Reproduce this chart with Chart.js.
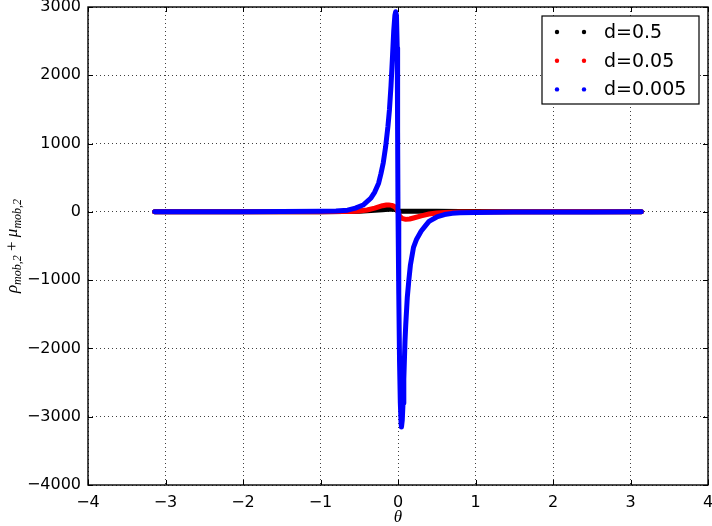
<!DOCTYPE html>
<html>
<head>
<meta charset="utf-8">
<script src="https://cdn.jsdelivr.net/npm/chart.js@4.4.0/dist/chart.umd.min.js"></script>
<style>
  html, body { margin: 0; padding: 0; background: #fff; }
  #wrap { width: 712px; height: 526px; }
</style>
</head>
<body>
<div id="wrap"><canvas id="thetaChart" width="712" height="526"></canvas></div>
<script>
/**************** Data ****************/
const xTicks = [-4, -3, -2, -1, 0, 1, 2, 3, 4];
const yTicks = [-4000, -3000, -2000, -1000, 0, 1000, 2000, 3000];

const seriesLabels = ["d=0.5", "d=0.05", "d=0.005"];
const seriesColors = ["#000000", "#ff0000", "#0000ff"];

// d=0.5
const blackX = [-3.14, -2.0, -1.0, -0.7, -0.5, -0.4, -0.3, -0.2, -0.12, -0.06, -0.02, 0.0, 0.02, 0.1, 0.3, 0.5, 0.8, 1.0, 1.5, 3.14];
const blackY = [0, 1, 3, 6, 10, 15, 22, 32, 38, 37, 30, 15, 10, 10, 9, 8, 6, 4, 2, 0];

// d=0.05
const redX = [-3.14, -2.0, -1.0, -0.7, -0.6, -0.5, -0.4, -0.3, -0.2, -0.15, -0.12, -0.08, -0.05, -0.02, 0.0, 0.02, 0.05, 0.1, 0.15, 0.2, 0.3, 0.4, 0.5, 0.6, 0.8, 1.0, 2.0, 3.14];
const redY = [0, 0, 2, 4, 6, 12, 28, 55, 90, 100, 102, 95, 80, 50, 0, -60, -95, -110, -105, -90, -58, -32, -16, -8, -3, -1, 0, 0];

// d=0.005
const blueX = [-3.14, -2.5, -2.0, -1.5, -1.0, -0.8, -0.65, -0.55, -0.45, -0.35, -0.3, -0.25, -0.22, -0.19, -0.16, -0.13, -0.11, -0.09, -0.07, -0.055, -0.04, -0.03, -0.02, -0.01, -0.005, 0.0, 0.01, 0.02, 0.03, 0.04, 0.045, 0.055, 0.065, 0.075, 0.09, 0.1, 0.12, 0.14, 0.16, 0.2, 0.24, 0.3, 0.35, 0.4, 0.5, 0.6, 0.7, 0.8, 1.0, 1.5, 2.0, 2.5, 3.14];
const blueY = [0, 1, 2, 4, 8, 14, 25, 55, 100, 200, 290, 420, 560, 720, 950, 1250, 1500, 1850, 2300, 2650, 2880, 2930, 2880, 2400, 1200, 0, -1200, -2200, -2800, -3100, -3150, -3050, -2800, -2450, -1900, -1650, -1250, -1000, -780, -520, -400, -280, -210, -140, -75, -40, -22, -14, -8, -3, -2, -1, 0];

function toPoints(xs, ys) {
  return xs.map((x, i) => ({ x: x, y: ys[i] }));
}

const minusSign = (v) => String(v).replace("-", "\u2212");

/**************** Frame, inner ticks, labels and legend ****************/
const frameAndLegend = {
  id: "frameAndLegend",
  afterDraw(chart) {
    const { ctx, chartArea: a, scales } = chart;
    ctx.save();

    // inward ticks on all four sides
    ctx.strokeStyle = "#000";
    ctx.lineWidth = 1;
    ctx.beginPath();
    xTicks.forEach((v) => {
      const px = Math.round(scales.x.getPixelForValue(v)) + 0.5;
      ctx.moveTo(px, a.bottom);
      ctx.lineTo(px, a.bottom - 5);
      ctx.moveTo(px, a.top);
      ctx.lineTo(px, a.top + 5);
    });
    yTicks.forEach((v) => {
      const py = Math.round(scales.y.getPixelForValue(v)) + 0.5;
      ctx.moveTo(a.left, py);
      ctx.lineTo(a.left + 5, py);
      ctx.moveTo(a.right, py);
      ctx.lineTo(a.right - 5, py);
    });
    ctx.stroke();

    // axes box
    ctx.lineWidth = 1.4;
    ctx.strokeRect(a.left, a.top, a.right - a.left, a.bottom - a.top);

    // x label
    ctx.fillStyle = "#000";
    ctx.font = "italic 17px 'Liberation Serif'";
    ctx.textAlign = "center";
    ctx.textBaseline = "middle";
    ctx.fillText("\u03b8", (a.left + a.right) / 2, 518);

    // y label: rho_{mob,2} + mu_{mob,2}, rotated
    const parts = [
      { t: "\u03c1", f: "italic 17px 'Liberation Serif'", dy: 0 },
      { t: "mob,2", f: "italic 12px 'Liberation Serif'", dy: 4 },
      { t: " + ", f: "17px 'Liberation Serif'", dy: 0 },
      { t: "\u03bc", f: "italic 17px 'Liberation Serif'", dy: 0 },
      { t: "mob,2", f: "italic 12px 'Liberation Serif'", dy: 4 },
    ];
    let total = 0;
    parts.forEach((p) => {
      ctx.font = p.f;
      p.w = ctx.measureText(p.t).width;
      total += p.w;
    });
    ctx.save();
    ctx.translate(13, (a.top + a.bottom) / 2);
    ctx.rotate(-Math.PI / 2);
    ctx.textAlign = "left";
    ctx.textBaseline = "alphabetic";
    let cx = -total / 2;
    parts.forEach((p) => {
      ctx.font = p.f;
      ctx.fillText(p.t, cx, 4 + p.dy);
      cx += p.w;
    });
    ctx.restore();

    // legend
    const lx = 542, ly = 16, lw = 157, lh = 88;
    ctx.fillStyle = "#fff";
    ctx.fillRect(lx, ly, lw, lh);
    ctx.lineWidth = 1.2;
    ctx.strokeStyle = "#000";
    ctx.strokeRect(lx, ly, lw, lh);
    ctx.font = "19px 'DejaVu Sans'";
    ctx.textAlign = "left";
    ctx.textBaseline = "middle";
    seriesLabels.forEach((label, i) => {
      const ry = ly + 16 + i * 28.7;
      ctx.fillStyle = seriesColors[i];
      [557, 584].forEach((dx) => {
        ctx.beginPath();
        ctx.arc(dx, ry, 2.2, 0, Math.PI * 2);
        ctx.fill();
      });
      ctx.fillStyle = "#000";
      ctx.fillText(label, 604, ry + 1);
    });

    ctx.restore();
  },
};

/**************** Chart ****************/
Chart.defaults.font.family = "'DejaVu Sans', sans-serif";
Chart.defaults.font.size = 16;
Chart.defaults.color = "#000";

const lineSet = (label, xs, ys, color, order) => ({
  label: label,
  data: toPoints(xs, ys),
  showLine: true,
  borderColor: color,
  backgroundColor: color,
  borderWidth: 5,
  borderJoinStyle: "round",
  borderCapStyle: "round",
  pointRadius: 0,
  tension: 0,
  order: order,
});

// keep the plot box where the reference has it
function noLabelOverflow(scale) {
  scale.paddingLeft = 0;
  scale.paddingRight = 0;
  scale.paddingTop = 0;
  scale.paddingBottom = 0;
}

new Chart(document.getElementById("thetaChart"), {
  type: "scatter",
  data: {
    datasets: [
      lineSet(seriesLabels[0], blackX, blackY, seriesColors[0], 3),
      lineSet(seriesLabels[1], redX, redY, seriesColors[1], 2),
      lineSet(seriesLabels[2], blueX, blueY, seriesColors[2], 1),
    ],
  },
  plugins: [frameAndLegend],
  options: {
    responsive: false,
    animation: false,
    events: [],
    layout: { padding: { left: 0, right: 4, top: 7, bottom: 0 } },
    plugins: {
      legend: { display: false },
      tooltip: { enabled: false },
    },
    scales: {
      x: {
        type: "linear",
        min: -4,
        max: 4,
        afterBuildTicks: (scale) => {
          scale.ticks = xTicks.map((v) => ({ value: v }));
        },
        afterFit: (scale) => {
          scale.height = 41;
          noLabelOverflow(scale);
        },
        ticks: {
          padding: 8,
          maxRotation: 0,
          callback: (v) => minusSign(v),
        },
        grid: {
          color: "rgba(0,0,0,0.75)",
          lineWidth: 1,
          drawTicks: false,
        },
        border: { display: false, dash: [1, 3] },
      },
      y: {
        type: "linear",
        min: -4000,
        max: 3000,
        afterBuildTicks: (scale) => {
          scale.ticks = yTicks.map((v) => ({ value: v }));
        },
        afterFit: (scale) => {
          scale.width = 88;
          noLabelOverflow(scale);
        },
        ticks: {
          padding: 7,
          callback: (v) => minusSign(v),
        },
        grid: {
          color: "rgba(0,0,0,0.75)",
          lineWidth: 1,
          drawTicks: false,
        },
        border: { display: false, dash: [1, 3] },
      },
    },
  },
});
</script>
</body>
</html>
